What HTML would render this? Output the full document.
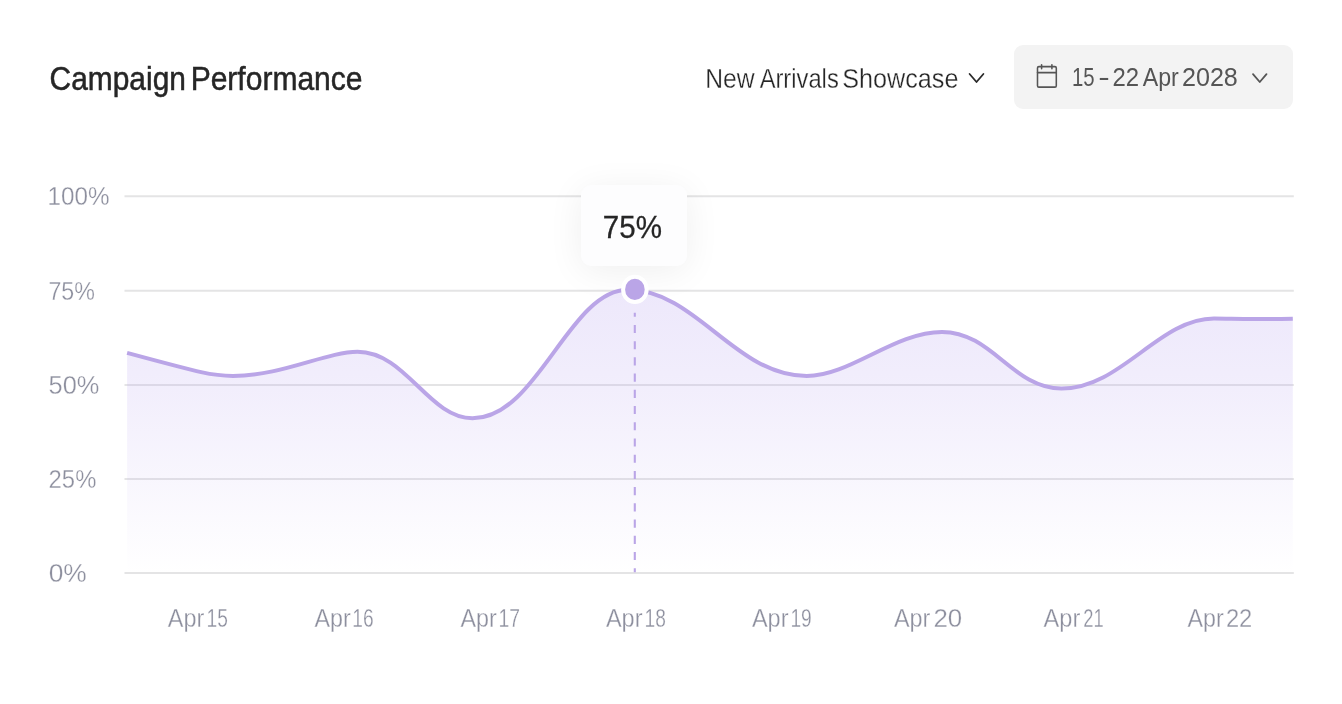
<!DOCTYPE html>
<html lang="en">
<head>
<meta charset="utf-8">
<title>Campaign Performance</title>
<style>
  html, body { margin: 0; padding: 0; background: #ffffff; }
  body { width: 1342px; height: 704px; position: relative; overflow: hidden;
         font-family: "Liberation Sans", sans-serif; }
  .t { position: absolute; left: 0; margin: 0; font-weight: 400; white-space: nowrap; }
  .t span { position: absolute; left: 0; top: 0; transform-origin: 0 0; white-space: nowrap; }
  #datebtn { position: absolute; left: 1014px; top: 45px; width: 279px; height: 64px;
           background: #f3f3f3; border-radius: 9px; }
  #tip { position: absolute; left: 580.6px; top: 185.3px; width: 106.8px; height: 80.5px; border-radius: 10px;
         background: #fdfdfe; box-shadow: 0 5px 36px rgba(0,0,0,0.065); }
  svg { position: absolute; left: 0; top: 0; }
</style>
</head>
<body>
<div id="datebtn"></div>

<svg id="chart" width="1342" height="704" viewBox="0 0 1342 704">
  <defs>
    <linearGradient id="fillg" x1="0" y1="290" x2="0" y2="573" gradientUnits="userSpaceOnUse">
      <stop offset="0" stop-color="#baa6f0" stop-opacity="0.26"/>
      <stop offset="0.35" stop-color="#baa6f0" stop-opacity="0.19"/>
      <stop offset="1" stop-color="#baa6f0" stop-opacity="0.0"/>
    </linearGradient>
  </defs>
  <g stroke="#e4e4e5" stroke-width="2" fill="none">
    <line x1="124.5" y1="196.2" x2="1293.8" y2="196.2"/>
    <line x1="124.5" y1="290.8" x2="1293.8" y2="290.8"/>
    <line x1="124.5" y1="384.9" x2="1293.8" y2="384.9"/>
    <line x1="124.5" y1="479.0" x2="1293.8" y2="479.0"/>
    <line x1="124.5" y1="573.0" x2="1293.8" y2="573.0"/>
  </g>
  <path id="area" fill="url(#fillg)" d="M127.1 352.9 C203.3 373.5 212.9 375.9 233.0 375.9 C281.6 375.9 326.4 351.8 357.5 351.8 C405.8 351.8 428.8 418.3 472.5 418.3 C537.8 418.3 568.9 289.8 628.0 289.8 C695.9 289.8 735.2 376.0 806.7 376.0 C850.0 376.0 894.6 331.9 942.0 331.9 C992.2 331.9 1012.5 388.6 1061.5 388.6 C1121.0 388.6 1159.1 318.5 1214.0 318.5 C1235.3 318.5 1239.2 319.8 1292.8 318.7 L1292.8 573 L127.1 573 Z"/>
  <path id="line" fill="none" stroke="#baa5e7" stroke-width="4" stroke-linejoin="round" d="M127.1 352.9 C203.3 373.5 212.9 375.9 233.0 375.9 C281.6 375.9 326.4 351.8 357.5 351.8 C405.8 351.8 428.8 418.3 472.5 418.3 C537.8 418.3 568.9 289.8 628.0 289.8 C695.9 289.8 735.2 376.0 806.7 376.0 C850.0 376.0 894.6 331.9 942.0 331.9 C992.2 331.9 1012.5 388.6 1061.5 388.6 C1121.0 388.6 1159.1 318.5 1214.0 318.5 C1235.3 318.5 1239.2 319.8 1292.8 318.7"/>
  <line x1="634.8" y1="312.7" x2="634.8" y2="572.2" stroke="#baa5e7" stroke-width="2.1" stroke-dasharray="8.1 8.12" stroke-dashoffset="4.0"/>
</svg>

<div id="tip"></div>

<svg id="overlay" width="1342" height="704" viewBox="0 0 1342 704">
  <ellipse cx="634.9" cy="289.4" rx="11.8" ry="12.7" fill="#baa5e7" stroke="#ffffff" stroke-width="4"/>
  <path d="M969.6 74.0 L976.5 82.0 L983.4 74.0" fill="none" stroke="#2a2a2a" stroke-width="1.8" stroke-linecap="round" stroke-linejoin="round"/>
  <path d="M1253 74.2 L1259.75 82 L1266.5 74.2" fill="none" stroke="#555555" stroke-width="1.8" stroke-linecap="round" stroke-linejoin="round"/>
  <g fill="none" stroke="#555555" stroke-width="1.55" stroke-linecap="round" stroke-linejoin="round">
    <rect x="1037.5" y="66.6" width="18.8" height="20.5" rx="1.4"/>
    <line x1="1037.5" y1="72.6" x2="1056.3" y2="72.6"/>
    <line x1="1041.6" y1="64.7" x2="1041.6" y2="68.8"/>
    <line x1="1051.9" y1="64.7" x2="1051.9" y2="68.8"/>
  </g>
</svg>

<h1 class="t" id="title" style="font-size:32.3px;line-height:32.3px;color:#262626;-webkit-text-stroke:0.5px #262626;"><span style="transform:translate(49.58px,62.93px) scaleX(0.9262)">Campaign</span> <span style="transform:translate(190.64px,62.93px) scaleX(0.9297)">Performance</span></h1>
<div class="t" id="campaign" style="font-size:27.6px;line-height:27.6px;color:#262626;-webkit-text-stroke:0.3px #ffffff;"><span style="transform:translate(705.17px,65.03px) scaleX(0.8946)">New</span> <span style="transform:translate(759.64px,65.03px) scaleX(0.8600)">Arrivals</span> <span style="transform:translate(842.29px,65.03px) scaleX(0.9118)">Showcase</span></div>
<div class="t" id="date" style="font-size:25.2px;line-height:25.2px;color:#555555;"><span style="transform:translate(1071.91px,64.94px) scaleX(0.8063)">15</span> <span style="transform:translate(1098.17px,64.74px) scaleX(1.3690)">-</span> <span style="transform:translate(1112.57px,64.94px) scaleX(0.9489)">22</span> <span style="transform:translate(1142.70px,64.94px) scaleX(0.9209)">Apr</span> <span style="transform:translate(1181.94px,64.94px) scaleX(0.9976)">2028</span></div>
<div class="t" id="y100" style="font-size:25.6px;line-height:25.6px;color:#8d8f9e;-webkit-text-stroke:0.3px #ffffff;"><span style="transform:translate(47.62px,184.05px) scaleX(0.9469)">100%</span></div>
<div class="t" id="y75" style="font-size:25.6px;line-height:25.6px;color:#8d8f9e;-webkit-text-stroke:0.3px #ffffff;"><span style="transform:translate(48.42px,278.93px) scaleX(0.9085)">75%</span></div>
<div class="t" id="y50" style="font-size:25.6px;line-height:25.6px;color:#8d8f9e;-webkit-text-stroke:0.3px #ffffff;"><span style="transform:translate(48.55px,373.00px) scaleX(0.9926)">50%</span></div>
<div class="t" id="y25" style="font-size:25.6px;line-height:25.6px;color:#8d8f9e;-webkit-text-stroke:0.3px #ffffff;"><span style="transform:translate(48.61px,467.00px) scaleX(0.9319)">25%</span></div>
<div class="t" id="y0" style="font-size:25.6px;line-height:25.6px;color:#8d8f9e;-webkit-text-stroke:0.3px #ffffff;"><span style="transform:translate(48.65px,560.95px) scaleX(1.0296)">0%</span></div>
<div class="t" id="tipv" style="font-size:31.2px;line-height:31.2px;color:#262626;-webkit-text-stroke:0.3px #262626;"><span style="transform:translate(602.81px,211.97px) scaleX(0.9469)">75%</span></div>
<div class="t" id="x0" style="font-size:25.6px;line-height:25.6px;color:#8d8f9e;-webkit-text-stroke:0.3px #ffffff;"><span style="transform:translate(167.87px,605.95px) scaleX(0.9162)">Apr</span> <span style="transform:translate(206.53px,605.95px) scaleX(0.7497)">15</span></div>
<div class="t" id="x1" style="font-size:25.6px;line-height:25.6px;color:#8d8f9e;-webkit-text-stroke:0.3px #ffffff;"><span style="transform:translate(314.53px,605.95px) scaleX(0.9108)">Apr</span> <span style="transform:translate(352.35px,605.95px) scaleX(0.7485)">16</span></div>
<div class="t" id="x2" style="font-size:25.6px;line-height:25.6px;color:#8d8f9e;-webkit-text-stroke:0.3px #ffffff;"><span style="transform:translate(460.53px,605.95px) scaleX(0.9108)">Apr</span> <span style="transform:translate(498.39px,605.95px) scaleX(0.7556)">17</span></div>
<div class="t" id="x3" style="font-size:25.6px;line-height:25.6px;color:#8d8f9e;-webkit-text-stroke:0.3px #ffffff;"><span style="transform:translate(605.88px,605.95px) scaleX(0.9188)">Apr</span> <span style="transform:translate(644.50px,605.95px) scaleX(0.7485)">18</span></div>
<div class="t" id="x4" style="font-size:25.6px;line-height:25.6px;color:#8d8f9e;-webkit-text-stroke:0.3px #ffffff;"><span style="transform:translate(751.88px,605.95px) scaleX(0.9188)">Apr</span> <span style="transform:translate(790.41px,605.95px) scaleX(0.7467)">19</span></div>
<div class="t" id="x5" style="font-size:25.6px;line-height:25.6px;color:#8d8f9e;-webkit-text-stroke:0.3px #ffffff;"><span style="transform:translate(893.90px,605.95px) scaleX(0.9154)">Apr</span> <span style="transform:translate(933.40px,605.95px) scaleX(1.0112)">20</span></div>
<div class="t" id="x6" style="font-size:25.6px;line-height:25.6px;color:#8d8f9e;-webkit-text-stroke:0.3px #ffffff;"><span style="transform:translate(1043.56px,605.95px) scaleX(0.9208)">Apr</span> <span style="transform:translate(1083.37px,605.95px) scaleX(0.7165)">21</span></div>
<div class="t" id="x7" style="font-size:25.6px;line-height:25.6px;color:#8d8f9e;-webkit-text-stroke:0.3px #ffffff;"><span style="transform:translate(1187.46px,605.95px) scaleX(0.9096)">Apr</span> <span style="transform:translate(1225.92px,605.95px) scaleX(0.9267)">22</span></div>
</body>
</html>
